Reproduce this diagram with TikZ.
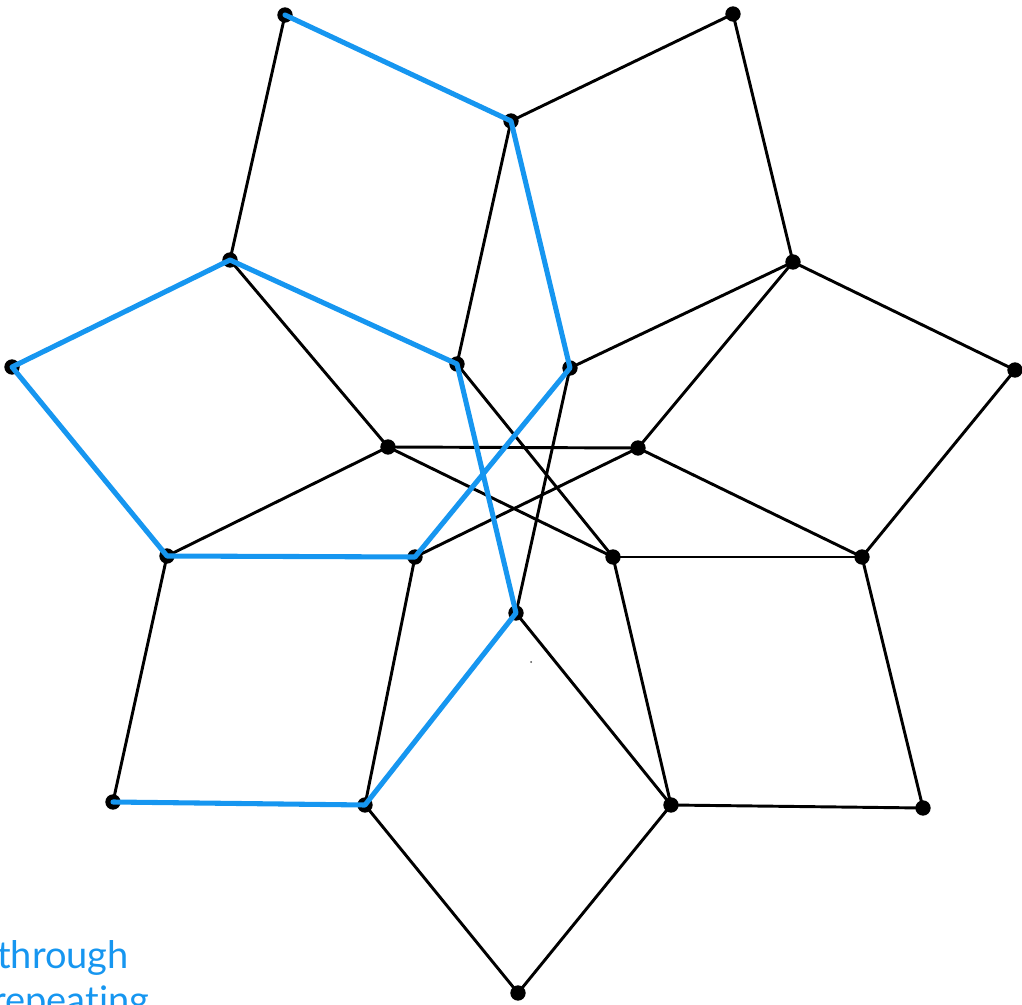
\documentclass[tikz,border=0pt]{standalone}
\usepackage{fontspec}
\setmainfont{Lato}[Ligatures=CommonOff]
\definecolor{pathblue}{RGB}{22,150,240}
\begin{document}
\begin{tikzpicture}[x=0.75pt,y=-0.75pt,
  edge/.style={black,line width=2.2pt},
  bluepath/.style={pathblue,line width=3.8pt,line cap=round,line join=round},
  dot/.style={circle,fill=black,inner sep=0pt,minimum size=11.5pt},
  caption/.style={text=pathblue,font=\fontsize{28.5}{34}\selectfont,anchor=base west,inner sep=0pt}]
\useasboundingbox (0,0) rectangle (1022,1005);
% outer tips
\coordinate (O1) at (285,15);
\coordinate (O2) at (733,14);
\coordinate (O3) at (1015,370);
\coordinate (O4) at (923,808);
\coordinate (O5) at (518,993);
\coordinate (O6) at (113,802);
\coordinate (O7) at (12,367);
% middle ring
\coordinate (M1) at (511,121);
\coordinate (M2) at (793,262);
\coordinate (M3) at (862,557);
\coordinate (M4) at (671,805);
\coordinate (M5) at (365,805);
\coordinate (M6) at (167,556);
\coordinate (M7) at (230,260);
% inner ring
\coordinate (I1) at (457,364);
\coordinate (I2) at (570,368);
\coordinate (I3) at (638,448);
\coordinate (I4) at (613,557);
\coordinate (I5) at (516,613);
\coordinate (I6) at (415,557);
\coordinate (I7) at (388,447);
% black edges
\draw[edge] (O1) -- (M7);
\draw[edge] (M1) -- (O2) -- (M2) -- (O3) -- (M3) -- (O4) -- (M4) -- (O5) -- (M5);
\draw[edge] (O6) -- (M6);
\draw[edge] (M1) -- (I1);
\draw[edge] (M2) -- (I2);
\draw[edge] (M2) -- (I3);
\draw[edge] (M3) -- (I3);
\draw[edge] (M3) -- (I4);
\draw[edge] (M4) -- (I4);
\draw[edge] (M4) -- (I5);
\draw[edge] (M5) -- (I6);
\draw[edge] (M6) -- (I7);
\draw[edge] (M7) -- (I7);
\draw[edge] (I1) -- (I4);
\draw[edge] (I2) -- (I5);
\draw[edge] (I3) -- (I6);
\draw[edge] (I4) -- (I7);
\draw[edge] (I3) -- (I7);
% dots
\foreach \p in {O1,O2,O3,O4,O5,O6,O7,M1,M2,M3,M4,M5,M6,M7,I1,I2,I3,I4,I5,I6,I7}
  \node[dot] (d\p) at (\p) {};
% blue path
\draw[bluepath] (O1) -- (M1) -- (I2) -- (I6) -- (M6) -- (O7) -- (M7) -- (I1) -- (I5) -- (M5) -- (O6);
% stray speck
\node[circle,fill=black!70,inner sep=0pt,minimum size=1.5pt] (speck) at (531,662) {};
% caption fragments (cut at the picture's edge, as in the reference)
\node[caption] (t1) at (-3,968) {through};
\node[caption] (t2) at (-8,1013) {repeating};
\end{tikzpicture}
\end{document}
